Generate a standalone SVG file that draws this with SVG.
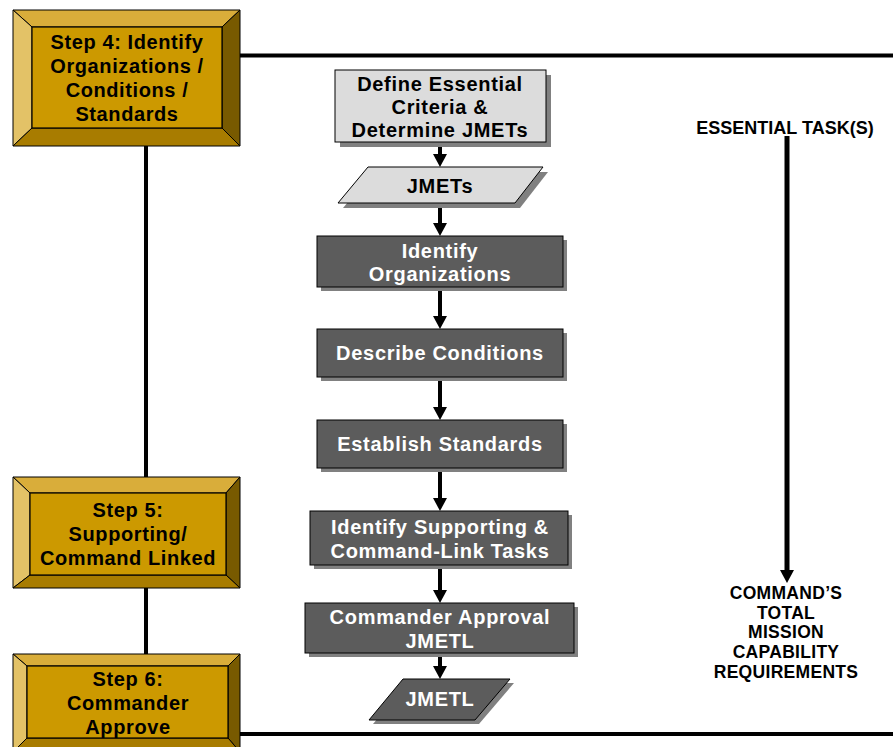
<svg xmlns="http://www.w3.org/2000/svg" width="893" height="747" viewBox="0 0 893 747">
<style>
.bt{fill:#d9ad3a;stroke:#000;stroke-width:1}
.bl{fill:#e3c267;stroke:#000;stroke-width:1}
.br{fill:#785a00;stroke:#000;stroke-width:1}
.bb{fill:#a87c00;stroke:#000;stroke-width:1}
.face{fill:#cc9900;stroke:#000;stroke-width:1.2}
.step{font-family:"Liberation Sans",Arial,sans-serif;font-weight:bold;font-size:20px;letter-spacing:0.6px;fill:#000;text-anchor:middle}
.lt{fill:#dcdcdc;stroke:#000;stroke-width:1}
.dk{fill:#5c5c5c;stroke:#000;stroke-width:1}
.sh{fill:#808080}
.tb{font-family:"Liberation Sans",Arial,sans-serif;font-weight:bold;font-size:20px;letter-spacing:0.7px;text-anchor:middle}
.blk{fill:#000}
.wht{fill:#fff}
.rt{font-family:"Liberation Sans",Arial,sans-serif;font-weight:bold;fill:#000;text-anchor:middle}
.ln{stroke:#000;stroke-width:4;fill:none}
.ar{stroke:#000;stroke-width:4;fill:none;marker-end:url(#ah)}
</style>
<defs>
<marker id="ah" markerUnits="userSpaceOnUse" viewBox="0 0 13 14" markerWidth="13" markerHeight="14" refX="1" refY="7" orient="auto">
<path d="M0,0 L13,7 L0,14 Z" fill="#000"/>
</marker>
</defs>
<g id="connectors">
<line class="ln" x1="240" y1="55.5" x2="893" y2="55.5"/>
<line class="ln" x1="240" y1="734" x2="893" y2="734"/>
<line class="ln" x1="146" y1="146" x2="146" y2="477"/>
<line class="ln" x1="146" y1="588" x2="146" y2="654"/>
<line class="ar" x1="440" y1="146" x2="440" y2="155"/>
<line class="ar" x1="440" y1="203" x2="440" y2="224"/>
<line class="ar" x1="440" y1="290" x2="440" y2="317"/>
<line class="ar" x1="440" y1="381" x2="440" y2="408"/>
<line class="ar" x1="440" y1="472" x2="440" y2="499"/>
<line class="ar" x1="440" y1="569" x2="440" y2="591"/>
<line class="ar" x1="440" y1="657" x2="440" y2="667"/>
<line x1="787" y1="136" x2="787" y2="571" stroke="#000" stroke-width="5" marker-end="url(#ah)"/>
</g>
<g id="step4">
<polygon class="bt" points="13,10 240,10 222,27 32,27"/>
<polygon class="bl" points="13,10 32,27 32,128 13,146"/>
<polygon class="br" points="240,10 240,146 222,128 222,27"/>
<polygon class="bb" points="13,146 32,128 222,128 240,146"/>
<rect class="face" x="32" y="27" width="190" height="101"/>
<text class="step" x="127" y="49">Step 4: Identify</text>
<text class="step" x="127" y="73">Organizations /</text>
<text class="step" x="127" y="97">Conditions /</text>
<text class="step" x="127" y="121">Standards</text>
</g>
<g id="step5">
<polygon class="bt" points="13,477 240,477 226,493 30,493"/>
<polygon class="bl" points="13,477 30,493 30,575 13,588"/>
<polygon class="br" points="240,477 240,588 226,575 226,493"/>
<polygon class="bb" points="13,588 30,575 226,575 240,588"/>
<rect class="face" x="30" y="493" width="196" height="82"/>
<text class="step" x="128" y="517">Step 5:</text>
<text class="step" x="128" y="541">Supporting/</text>
<text class="step" x="128" y="565">Command Linked</text>
</g>
<g id="step6">
<polygon class="bt" points="13,654 240,654 228,666 27,666"/>
<polygon class="bl" points="13,654 27,666 27,738 13,752"/>
<polygon class="br" points="240,654 240,752 228,738 228,666"/>
<polygon class="bb" points="13,752 27,738 228,738 240,752"/>
<rect class="face" x="27" y="666" width="201" height="72"/>
<text class="step" x="128" y="686">Step 6:</text>
<text class="step" x="128" y="710">Commander</text>
<text class="step" x="128" y="734">Approve</text>
</g>
<g id="define">
<rect class="sh" x="340" y="75" width="211" height="72"/>
<rect class="lt" x="335" y="70" width="211" height="72"/>
<text class="tb blk" x="440" y="91">Define Essential</text>
<text class="tb blk" x="440" y="114">Criteria &amp;</text>
<text class="tb blk" x="440" y="137">Determine JMETs</text>
</g>
<g id="jmets">
<polygon class="sh" points="373,172 548,172 520,208 343,208"/>
<polygon class="lt" points="368,167 543,167 515,203 338,203"/>
<text class="tb blk" x="440" y="193">JMETs</text>
</g>
<g id="identify-org">
<rect class="sh" x="321" y="240" width="246" height="51"/>
<rect class="dk" x="317" y="236" width="246" height="51"/>
<text class="tb wht" x="440" y="258">Identify</text>
<text class="tb wht" x="440" y="281">Organizations</text>
</g>
<g id="describe">
<rect class="sh" x="321" y="333" width="246" height="48"/>
<rect class="dk" x="317" y="329" width="246" height="48"/>
<text class="tb wht" x="440" y="360">Describe Conditions</text>
</g>
<g id="establish">
<rect class="sh" x="321" y="424" width="246" height="48"/>
<rect class="dk" x="317" y="420" width="246" height="48"/>
<text class="tb wht" x="440" y="451">Establish Standards</text>
</g>
<g id="identify-supp">
<rect class="sh" x="314" y="515" width="258" height="54"/>
<rect class="dk" x="310" y="511" width="258" height="54"/>
<text class="tb wht" x="440" y="534">Identify Supporting &amp;</text>
<text class="tb wht" x="440" y="558">Command-Link Tasks</text>
</g>
<g id="commander">
<rect class="sh" x="309" y="607" width="269" height="50"/>
<rect class="dk" x="305" y="603" width="269" height="50"/>
<text class="tb wht" x="440" y="624">Commander Approval</text>
<text class="tb wht" x="440" y="648">JMETL</text>
</g>
<g id="jmetl">
<polygon class="sh" points="407,683 514,683 479,724 373,724"/>
<polygon class="dk" points="403,679 510,679 475,720 369,720"/>
<text class="tb wht" x="440" y="706">JMETL</text>
</g>
<g id="essential">
<text class="rt" x="785" y="134" font-size="18">ESSENTIAL TASK(S)</text>
</g>
<g id="total">
<text class="rt" x="786" y="599" font-size="17.5" letter-spacing="0.3">COMMAND’S</text>
<text class="rt" x="786" y="619" font-size="17.5" letter-spacing="0.3">TOTAL</text>
<text class="rt" x="786" y="638" font-size="17.5" letter-spacing="0.3">MISSION</text>
<text class="rt" x="786" y="658" font-size="17.5" letter-spacing="0.3">CAPABILITY</text>
<text class="rt" x="786" y="678" font-size="17.5" letter-spacing="0.3">REQUIREMENTS</text>
</g>
</svg>
